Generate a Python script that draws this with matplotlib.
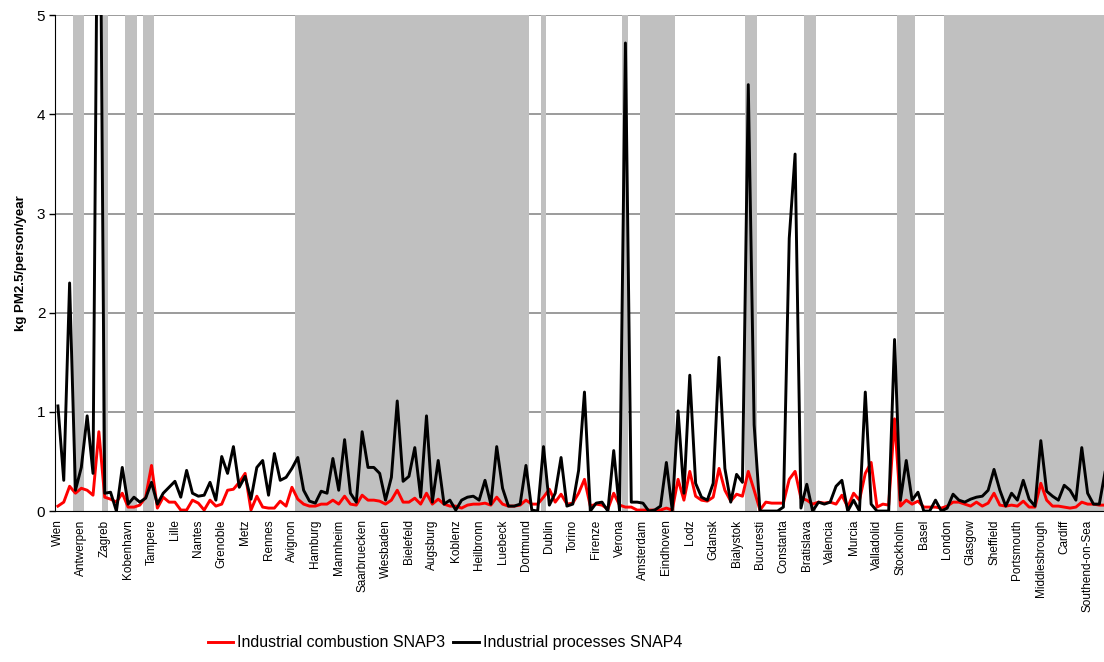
import numpy as np
import matplotlib
matplotlib.use("Agg")
import matplotlib.pyplot as plt

plt.rcParams['font.family'] = ['Liberation Sans', 'DejaVu Sans']

# every 4th city gets a label on the category axis
labels = ['Wien', 'Antwerpen', 'Zagreb', 'Kobenhavn', 'Tampere', 'Lille', 'Nantes',
          'Grenoble', 'Metz', 'Rennes', 'Avignon', 'Hamburg', 'Mannheim',
          'Saarbruecken', 'Wiesbaden', 'Bielefeld', 'Augsburg', 'Koblenz',
          'Heilbronn', 'Luebeck', 'Dortmund', 'Dublin', 'Torino', 'Firenze',
          'Verona', 'Amsterdam', 'Eindhoven', 'Lodz', 'Gdansk', 'Bialystok',
          'Bucuresti', 'Constanta', 'Bratislava', 'Valencia', 'Murcia',
          'Valladolid', 'Stockholm', 'Basel', 'London', 'Glasgow', 'Sheffield',
          'Portsmouth', 'Middlesbrough', 'Cardiff', 'Southend-on-Sea']

# SNAP3 - industrial combustion (kg PM2.5 / person / year)
snap3 = [0.05, 0.09, 0.25, 0.18, 0.23, 0.21, 0.16, 0.80, 0.14, 0.12,
         0.09, 0.18, 0.04, 0.04, 0.06, 0.14, 0.46, 0.03, 0.14, 0.09,
         0.09, 0.01, 0.01, 0.11, 0.08, 0.01, 0.11, 0.05, 0.07, 0.21,
         0.22, 0.29, 0.38, 0.01, 0.15, 0.04, 0.03, 0.03, 0.10, 0.05,
         0.24, 0.12, 0.07, 0.05, 0.05, 0.07, 0.07, 0.11, 0.07, 0.15,
         0.07, 0.06, 0.16, 0.11, 0.11, 0.10, 0.07, 0.11, 0.21, 0.09,
         0.09, 0.13, 0.07, 0.18, 0.07, 0.12, 0.07, 0.05, 0.05, 0.03,
         0.06, 0.07, 0.07, 0.08, 0.06, 0.14, 0.07, 0.05, 0.05, 0.06,
         0.11, 0.07, 0.07, 0.14, 0.22, 0.09, 0.17, 0.07, 0.08, 0.18,
         0.32, 0.05, 0.07, 0.06, 0.02, 0.18, 0.06, 0.04, 0.04, 0.01,
         0.01, 0.01, 0.01, 0.01, 0.03, 0.01, 0.32, 0.11, 0.40, 0.15,
         0.11, 0.10, 0.14, 0.43, 0.21, 0.10, 0.17, 0.15, 0.40, 0.21,
         0.01, 0.09, 0.08, 0.08, 0.08, 0.32, 0.40, 0.13, 0.11, 0.07,
         0.09, 0.08, 0.09, 0.07, 0.16, 0.04, 0.18, 0.11, 0.38, 0.49,
         0.04, 0.07, 0.06, 0.93, 0.05, 0.11, 0.07, 0.10, 0.04, 0.04,
         0.04, 0.03, 0.05, 0.09, 0.09, 0.07, 0.05, 0.09, 0.05, 0.08,
         0.18, 0.06, 0.05, 0.06, 0.05, 0.10, 0.04, 0.04, 0.28, 0.11,
         0.05, 0.05, 0.04, 0.03, 0.04, 0.09, 0.07, 0.07, 0.06, 0.06]

# SNAP4 - industrial processes
snap4 = [1.06, 0.31, 2.30, 0.21, 0.44, 0.96, 0.38, 8.20, 0.18, 0.19,
         0.00, 0.44, 0.07, 0.14, 0.09, 0.13, 0.29, 0.07, 0.18, 0.24,
         0.30, 0.14, 0.41, 0.18, 0.15, 0.16, 0.29, 0.11, 0.55, 0.38,
         0.65, 0.24, 0.35, 0.12, 0.44, 0.51, 0.16, 0.58, 0.31, 0.34,
         0.43, 0.54, 0.21, 0.10, 0.08, 0.20, 0.18, 0.53, 0.21, 0.72,
         0.18, 0.09, 0.80, 0.44, 0.44, 0.38, 0.11, 0.34, 1.11, 0.30,
         0.35, 0.64, 0.14, 0.96, 0.09, 0.51, 0.07, 0.11, 0.01, 0.11,
         0.14, 0.15, 0.11, 0.31, 0.07, 0.65, 0.23, 0.05, 0.05, 0.07,
         0.46, 0.01, 0.00, 0.65, 0.06, 0.18, 0.54, 0.05, 0.07, 0.41,
         1.20, 0.00, 0.08, 0.09, 0.00, 0.61, 0.00, 4.72, 0.09, 0.09,
         0.08, 0.00, 0.01, 0.05, 0.49, 0.01, 1.01, 0.18, 1.37, 0.28,
         0.14, 0.11, 0.28, 1.55, 0.43, 0.09, 0.37, 0.29, 4.30, 0.87,
         0.00, 0.00, 0.00, 0.00, 0.04, 2.75, 3.60, 0.03, 0.27, 0.00,
         0.09, 0.07, 0.09, 0.25, 0.31, 0.00, 0.11, 0.00, 1.20, 0.07,
         0.00, 0.00, 0.00, 1.73, 0.11, 0.51, 0.11, 0.19, 0.00, 0.00,
         0.11, 0.00, 0.03, 0.17, 0.11, 0.09, 0.12, 0.14, 0.15, 0.21,
         0.42, 0.21, 0.05, 0.18, 0.11, 0.31, 0.12, 0.05, 0.71, 0.20,
         0.15, 0.11, 0.26, 0.21, 0.11, 0.64, 0.18, 0.07, 0.07, 0.40]

# shaded country groups (category ranges, inclusive)
country_bands = [(3, 4), (8, 8), (12, 13), (15, 16), (41, 80), (83, 83),
                 (97, 97), (100, 105), (118, 119), (128, 129), (144, 146),
                 (152, 179)]

x = np.arange(len(snap4))

fig = plt.figure(figsize=(11.04, 6.62), dpi=100)
ax = fig.add_axes([0.0498, 0.228, 0.9502, 0.749])

for y in range(1, 6):
    ax.axhline(y, color='#808080', lw=1.1, zorder=1)
for a, b in country_bands:
    ax.axvspan(a - 0.5, b + 0.5, color='#c0c0c0', lw=0, zorder=2)

ax.plot(x, snap3, color='#ff0000', lw=2.1, zorder=3,
        label='Industrial combustion SNAP3')
ax.plot(x, snap4, color='black', lw=2.1, zorder=4,
        label='Industrial processes SNAP4')

ax.set_xlim(-0.5, 178.8)
ax.set_ylim(0, 5)
ax.set_yticks(range(6))
ax.tick_params(axis='y', labelsize=11, length=4, width=1, direction='out', pad=3)
ax.set_xticks(np.arange(0, 4 * len(labels), 4))
ax.set_xticklabels(labels, rotation=90, fontsize=8.5)
ax.tick_params(axis='x', length=0, pad=6)

for side in ('top', 'right'):
    ax.spines[side].set_visible(False)
ax.spines['left'].set_color('black')
ax.spines['bottom'].set_color('black')
ax.spines['left'].set_zorder(5)
ax.spines['bottom'].set_zorder(5)

ax.set_ylabel('kg PM2.5/person/year', fontsize=9.5, fontweight='bold')
ax.yaxis.set_label_coords(-0.0265, 0.5)

fig.legend(loc='center', bbox_to_anchor=(0.403, 0.029), ncol=2, frameon=False,
           fontsize=11.5, handlelength=1.6, handletextpad=0.25, columnspacing=0.5)

fig.savefig('out.png', dpi=100)
